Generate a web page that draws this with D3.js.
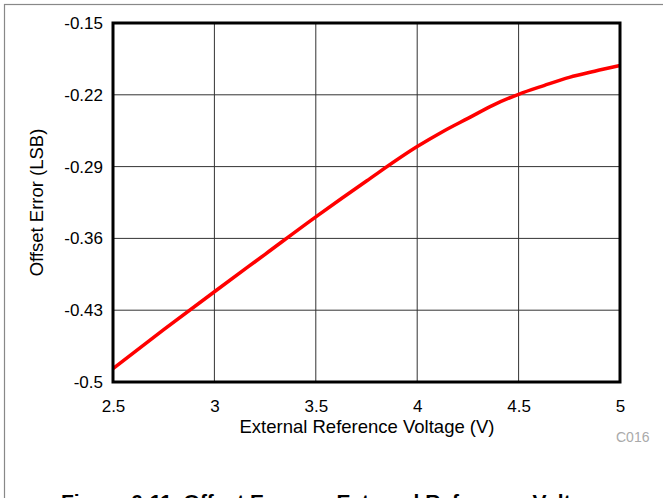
<!DOCTYPE html>
<html>
<head>
	<meta charset="utf-8">
	<title>Offset Error vs External Reference Voltage</title>
	<script type="text/javascript" src="https://cdn.jsdelivr.net/npm/d3@7"></script>
	<style type="text/css">
		body { margin: 0; background: #fff; }
		svg text { font-family: "Liberation Sans", Arial, sans-serif; }
	</style>
</head>
<body>

	<svg width="663" height="498" class="chart"></svg>

	<script type="text/javascript">

		var voltage = [2.5, 2.75, 3.0, 3.25, 3.5, 3.75, 4.0, 4.125, 4.25, 4.375, 4.5, 4.625, 4.75, 4.875, 5.0]
		var offset_err = [-0.487, -0.449, -0.412, -0.3755, -0.339, -0.304, -0.2705, -0.256, -0.243, -0.230, -0.2195, -0.211, -0.203, -0.197, -0.1915]

		var x_ticks = [2.5, 3, 3.5, 4, 4.5, 5]
		var y_ticks = [-0.5, -0.43, -0.36, -0.29, -0.22, -0.15]

		var data = voltage.map(function(v, i) { return {'v': v, 'e': offset_err[i]} })

		var margin = {'top': 23, 'right': 43, 'bottom': 116, 'left': 113}
		var svg = d3.select('.chart')
		var width = +svg.attr('width') - margin.left - margin.right
		var height = +svg.attr('height') - margin.top - margin.bottom

		// outer figure frame
		svg.append('rect')
			.attr('x', 4.5).attr('y', 4.5)
			.attr('width', 700).attr('height', 600)
			.attr('fill', 'none')
			.attr('stroke', '#888')
			.attr('stroke-width', 1.2)

		var g = svg.append('g')
			.attr('transform', 'translate(' + margin.left + ',' + margin.top + ')')

		var x = d3.scaleLinear().domain([2.5, 5]).range([0, width])
		var y = d3.scaleLinear().domain([-0.5, -0.15]).range([height, 0])

		// grid
		g.append('g')
			.selectAll('line')
			.data(x_ticks.slice(1, -1))
			.enter().append('line')
			.attr('x1', function(d) { return x(d) }).attr('x2', function(d) { return x(d) })
			.attr('y1', 0).attr('y2', height)
			.attr('stroke', '#333').attr('stroke-width', 1)

		g.append('g')
			.selectAll('line')
			.data(y_ticks.slice(1, -1))
			.enter().append('line')
			.attr('y1', function(d) { return y(d) }).attr('y2', function(d) { return y(d) })
			.attr('x1', 0).attr('x2', width)
			.attr('stroke', '#333').attr('stroke-width', 1)

		var plain = function(d) { return String(d) }

		// axes (labels only, no tick lines)
		var xaxis = g.append('g')
			.attr('transform', 'translate(0,' + height + ')')
			.call(d3.axisBottom(x).tickValues(x_ticks).tickSize(0).tickPadding(18).tickFormat(plain))
		xaxis.select('.domain').remove()
		xaxis.selectAll('text')
			.attr('font-size', 17).attr('fill', '#000')
			.attr('font-family', '"Liberation Sans", Arial, sans-serif')

		var yaxis = g.append('g')
			.call(d3.axisLeft(y).tickValues(y_ticks).tickSize(0).tickPadding(10).tickFormat(plain))
		yaxis.select('.domain').remove()
		yaxis.selectAll('text')
			.attr('font-size', 17).attr('fill', '#000')
			.attr('font-family', '"Liberation Sans", Arial, sans-serif')

		// curve
		var line = d3.line()
			.x(function(d) { return x(d.v) })
			.y(function(d) { return y(d.e) })
			.curve(d3.curveMonotoneX)

		g.append('path')
			.attr('d', line(data))
			.attr('fill', 'none')
			.attr('stroke', '#ff0000')
			.attr('stroke-width', 3.5)

		// plot frame
		g.append('rect')
			.attr('x', 0).attr('y', 0)
			.attr('width', width).attr('height', height)
			.attr('fill', 'none')
			.attr('stroke', '#000')
			.attr('stroke-width', 3)

		// titles
		svg.append('text')
			.attr('x', 367).attr('y', 433)
			.attr('text-anchor', 'middle')
			.attr('font-size', 18.5)
			.text('External Reference Voltage (V)')

		svg.append('text')
			.attr('transform', 'translate(43,' + (margin.top + height / 2) + ') rotate(-90)')
			.attr('text-anchor', 'middle')
			.attr('font-size', 18.5)
			.text('Offset Error (LSB)')

		svg.append('text')
			.attr('x', 616).attr('y', 442)
			.attr('font-size', 14)
			.attr('fill', '#aaa')
			.text('C016')

		svg.append('text')
			.attr('x', 61).attr('y', 509)
			.attr('font-size', 21)
			.attr('font-weight', 'bold')
			.text('Figure 6-11. Offset Error vs External Reference Voltage')

	</script>

</body>
</html>
